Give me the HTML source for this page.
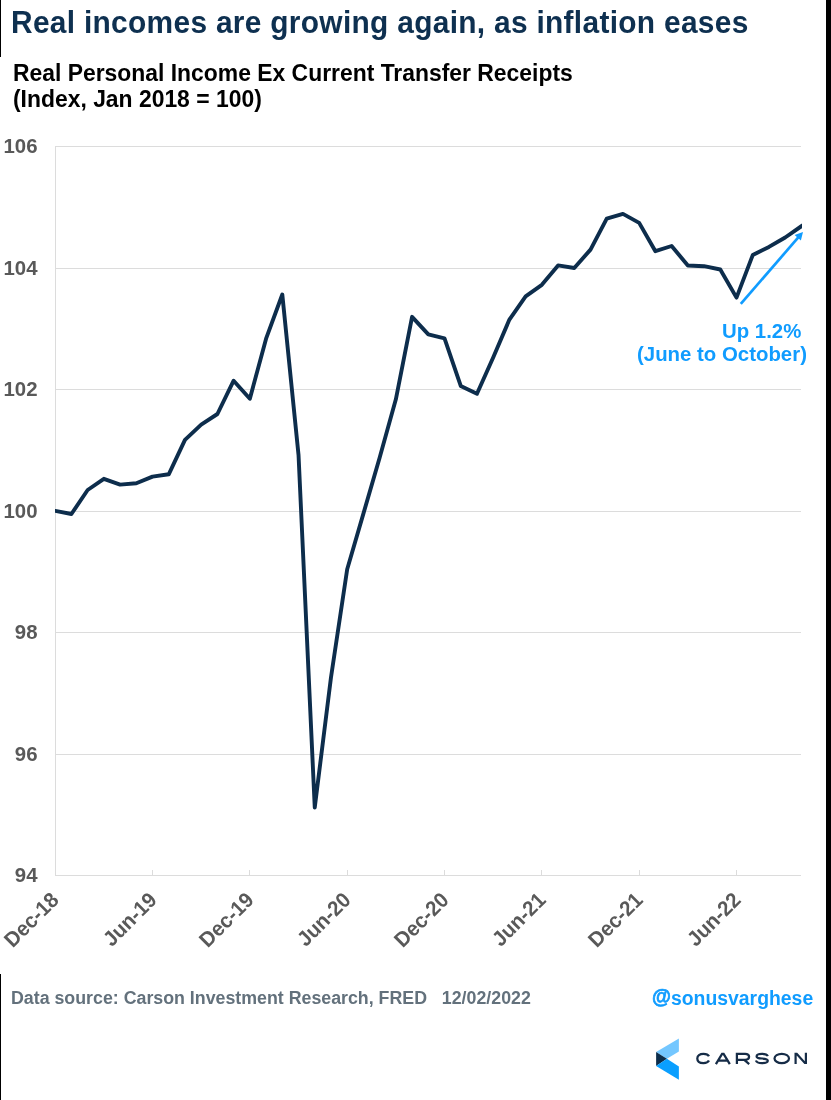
<!DOCTYPE html>
<html><head><meta charset="utf-8"><title>Real incomes</title>
<style>
html,body{margin:0;padding:0;background:#fff;}
body{width:831px;height:1100px;position:relative;overflow:hidden;font-family:"Liberation Sans",sans-serif;font-weight:bold;}
.abs{position:absolute;white-space:nowrap;will-change:transform;}
#barL1{left:0;top:0;width:1.1px;height:56.8px;background:#000;}
#barL2{left:0;top:974px;width:1.1px;height:126px;background:#000;}
#barR{left:826px;top:0;width:5px;height:1100px;background:#000;}
#title{left:11px;top:5.5px;font-size:29.9px;line-height:34px;color:#0e3050;letter-spacing:0.3px;transform-origin:0 27.4px;transform:scaleY(1.035);}
.sub{left:13.3px;font-size:22.9px;line-height:26.4px;color:#000;white-space:pre;transform-origin:0 21.1px;transform:scaleY(1.035);}
.yl{will-change:transform;position:absolute;left:0;width:37.5px;text-align:right;font-size:20.4px;line-height:23px;color:#595959;transform-origin:0 18.6px;transform:scaleY(1.035);}
.xl{position:absolute;top:885px;font-size:20.4px;line-height:22px;color:#595959;white-space:nowrap;transform-origin:100% 50%;transform:translate(-100%,0) rotate(-45deg) scaleY(1.035);}
.ann{right:24.5px;font-size:20.4px;line-height:23.4px;color:#109cff;text-align:right;white-space:pre;transform-origin:100% 18.8px;transform:scaleY(1.035);}
#src{left:11px;top:988px;font-size:17.8px;line-height:20px;color:#63717c;white-space:pre;transform-origin:0 16px;transform:scaleY(1.035);}
.at{-webkit-text-stroke:0.7px #109cff;position:relative;top:-1.6px;}
#handle{left:652px;top:985.6px;font-size:19.4px;line-height:24px;color:#109cff;}
#carson{left:696.5px;top:1048.5px;font-size:16.8px;line-height:20px;color:#0e2a44;font-weight:normal;letter-spacing:5px;transform-origin:0 50%;transform:scaleX(1.3);}
svg{position:absolute;left:0;top:0;}
</style></head><body>
<div class="abs" id="barL1"></div><div class="abs" id="barL2"></div><div class="abs" id="barR"></div>
<div class="abs" id="title">Real incomes are growing again, as inflation eases</div>
<div class="abs sub" style="top:60px">Real Personal Income Ex Current Transfer Receipts</div>
<div class="abs sub" style="top:86.4px;left:13.3px">(Index, Jan 2018 = 100)</div>
<svg width="831" height="1100" viewBox="0 0 831 1100">
<defs><clipPath id="cp"><rect x="55" y="140" width="747" height="740"/></clipPath></defs>
<g fill="#dcdcdc" shape-rendering="crispEdges"><rect x="55" y="146" width="746" height="1"/><rect x="55" y="268" width="746" height="1"/><rect x="55" y="389" width="746" height="1"/><rect x="55" y="511" width="746" height="1"/><rect x="55" y="632" width="746" height="1"/><rect x="55" y="754" width="746" height="1"/>
<rect x="55" y="146" width="1" height="730"/><rect x="55" y="875" width="746" height="1"/><rect x="152" y="870" width="1" height="5"/><rect x="249" y="870" width="1" height="5"/><rect x="347" y="870" width="1" height="5"/><rect x="444" y="870" width="1" height="5"/><rect x="541" y="870" width="1" height="5"/><rect x="639" y="870" width="1" height="5"/><rect x="736" y="870" width="1" height="5"/></g>
<polyline clip-path="url(#cp)" points="52.20,510.33 55.20,510.90 71.42,514.00 87.64,490.00 103.87,478.80 120.09,484.60 136.31,483.30 152.53,476.60 168.75,474.30 184.97,439.80 201.19,424.60 217.42,414.00 233.64,380.70 249.86,398.70 266.08,338.70 282.30,294.50 298.53,455.00 314.75,807.50 330.97,677.50 347.19,569.30 363.41,513.60 379.63,457.80 395.86,399.30 412.08,316.80 428.30,334.30 444.52,338.30 460.74,385.90 476.96,393.80 493.19,357.50 509.41,319.60 525.63,296.40 541.85,284.80 558.07,265.40 574.29,268.00 590.52,249.60 606.74,218.70 622.96,213.90 639.18,222.90 655.40,251.20 671.62,246.00 687.85,265.50 704.07,266.20 720.29,269.50 736.51,297.60 752.73,255.10 768.95,246.90 785.18,237.50 801.40,226.20 805.40,223.41" fill="none" stroke="#0d2d4c" stroke-width="3.9" stroke-linejoin="round"/>
<line x1="740.8" y1="303.8" x2="798.5" y2="237.2" stroke="#109cff" stroke-width="2.7"/>
<polygon points="803,232 794.6,234.9 800.9,240.4" fill="#109cff"/>
<g><polygon points="678.9,1038.6 678.9,1051.6 666.9,1058.75 656.1,1052.1" fill="#74c7ff"/>
<polygon points="656.1,1052.1 666.9,1058.75 656.1,1065.9" fill="#0c2d4b"/>
<polygon points="656.1,1065.9 666.9,1058.75 678.9,1066.4 678.9,1079.85" fill="#0a9fff"/></g>
<g fill="none" stroke="#162c47" stroke-width="2.25" stroke-linejoin="miter" stroke-miterlimit="10">
<path transform="translate(696.3,1052.8)" d="M12.7,3.5 C11.9,1.9 10,1 7.2,1 C3.4,1 1,2.8 1,5.65 C1,8.5 3.4,10.3 7.2,10.3 C10,10.3 11.9,9.4 12.7,7.8"/>
<path transform="translate(714.8,1052.8)" d="M1.1,11.3 L7.3,1 L8.8,1 L15,11.3 M3.6,7.8 H12.5"/>
<path transform="translate(735.9,1052.8)" d="M1,11.3 V1 H9.3 C11.8,1 13.2,2.1 13.2,4 C13.2,5.9 11.8,7 9.3,7 H1 M8.4,7 L13.3,11.3"/>
<path transform="translate(755,1052.8)" d="M12.8,3.4 C12.2,1.8 10.2,1 7,1 C3.6,1 1.6,1.9 1.6,3.6 C1.6,5.2 3.2,5.5 7,5.7 C11,5.9 12.8,6.3 12.8,8 C12.8,9.6 10.6,10.3 7,10.3 C3.6,10.3 1.5,9.4 0.9,7.7"/>
<ellipse cx="781.75" cy="1058.45" rx="7.25" ry="4.65"/>
<path transform="translate(794.5,1052.8)" stroke="none" fill="#162c47" d="M0,0 H2.7 L10.3,8.4 V0 H12.5 V11.3 H9.9 L2.2,2.8 V11.3 H0 Z"/>
</g>
</svg>
<div class="yl" style="top:134.7px">106</div><div class="yl" style="top:256.7px">104</div><div class="yl" style="top:377.7px">102</div><div class="yl" style="top:499.7px">100</div><div class="yl" style="top:620.7px">98</div><div class="yl" style="top:742.7px">96</div><div class="yl" style="top:863.7px">94</div>
<div class="xl" style="left:55.2px">Dec-18</div><div class="xl" style="left:152.5px">Jun-19</div><div class="xl" style="left:249.9px">Dec-19</div><div class="xl" style="left:347.2px">Jun-20</div><div class="xl" style="left:444.5px">Dec-20</div><div class="xl" style="left:541.9px">Jun-21</div><div class="xl" style="left:639.2px">Dec-21</div><div class="xl" style="left:736.5px">Jun-22</div>
<div class="abs ann" style="top:319.7px">Up 1.2% </div>
<div class="abs ann" style="top:343.1px">(June to October)</div>
<div class="abs" id="src">Data source: Carson Investment Research, FRED   12/02/2022</div>
<div class="abs" id="handle"><span class="at">@</span>sonusvarghese</div>
</body></html>
